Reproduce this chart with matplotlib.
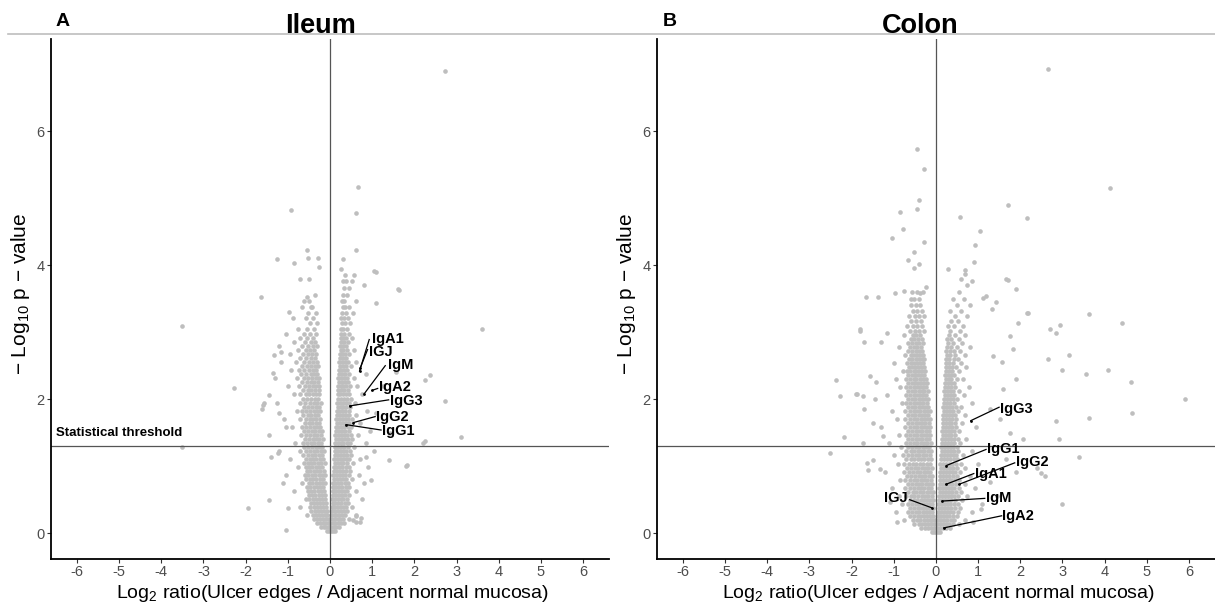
import matplotlib
matplotlib.use('Agg')
import matplotlib.pyplot as plt
import numpy as np

plt.rcParams['font.family'] = ['Liberation Sans', 'DejaVu Sans']
plt.rcParams['mathtext.fontset'] = 'custom'
plt.rcParams['mathtext.rm'] = 'Liberation Sans'
plt.rcParams['mathtext.default'] = 'regular'

# ---- data (log2 ratio, -log10 p) ----
# dense cloud, one row per -log10 p level: (y, [x, x, ...])
ileum_rows = [
    (0.03, [-0.08, -0.03, 0.02, 0.07, 0.12]),
    (0.09, [-0.22, -0.15, -0.09, -0.03, 0.03, 0.09, 0.15, 0.21]),
    (0.15, [-0.31, -0.24, -0.17, -0.11, -0.05, 0.01, 0.07, 0.13, 0.19, 0.25, 0.33]),
    (0.21, [-0.38, -0.30, -0.23, -0.16, -0.09, -0.02, 0.05, 0.11, 0.18, 0.24, 0.31, 0.45]),
    (0.27, [-0.55, -0.41, -0.34, -0.27, -0.20, -0.13, -0.06, 0.03, 0.09, 0.15, 0.22, 0.29, 0.36, 0.62]),
    (0.33, [-0.44, -0.36, -0.29, -0.22, -0.15, -0.08, 0.05, 0.12, 0.19, 0.26, 0.33, 0.41]),
    (0.39, [-0.70, -0.47, -0.39, -0.31, -0.24, -0.17, -0.10, 0.04, 0.10, 0.17, 0.24, 0.31, 0.38, 0.53]),
    (0.45, [-0.46, -0.38, -0.30, -0.23, -0.16, -0.09, 0.06, 0.13, 0.20, 0.27, 0.35, 0.42]),
    (0.51, [-0.58, -0.49, -0.41, -0.33, -0.26, -0.19, -0.12, 0.05, 0.11, 0.18, 0.25, 0.32, 0.40, 0.75]),
    (0.57, [-0.50, -0.42, -0.35, -0.27, -0.20, -0.13, 0.07, 0.14, 0.21, 0.28, 0.36, 0.46]),
    (0.63, [-0.85, -0.52, -0.44, -0.37, -0.29, -0.22, -0.14, 0.06, 0.12, 0.19, 0.26, 0.33, 0.41, 0.62]),
    (0.69, [-0.55, -0.47, -0.39, -0.31, -0.24, -0.16, 0.08, 0.15, 0.22, 0.29, 0.37, 0.44]),
    (0.75, [-0.66, -0.50, -0.42, -0.34, -0.26, -0.18, -0.11, 0.07, 0.13, 0.20, 0.27, 0.35, 0.43, 0.80]),
    (0.81, [-0.56, -0.48, -0.40, -0.32, -0.24, -0.16, 0.09, 0.16, 0.23, 0.30, 0.38, 0.52]),
    (0.87, [-1.05, -0.60, -0.51, -0.43, -0.35, -0.27, -0.19, -0.12, 0.08, 0.14, 0.21, 0.28, 0.36, 0.44, 0.68]),
    (0.93, [-0.55, -0.47, -0.39, -0.31, -0.23, -0.15, 0.10, 0.17, 0.24, 0.31, 0.39, 0.47]),
    (0.99, [-0.75, -0.58, -0.50, -0.42, -0.34, -0.26, -0.18, 0.09, 0.15, 0.22, 0.29, 0.37, 0.45, 0.90]),
    (1.05, [-0.62, -0.53, -0.45, -0.37, -0.29, -0.21, -0.13, 0.11, 0.18, 0.25, 0.32, 0.40, 0.55]),
    (1.11, [-0.95, -0.57, -0.48, -0.40, -0.32, -0.24, -0.16, 0.10, 0.16, 0.23, 0.30, 0.38, 0.46, 0.72]),
    (1.17, [-0.63, -0.52, -0.43, -0.35, -0.27, -0.19, 0.12, 0.19, 0.26, 0.33, 0.41, 0.49]),
    (1.23, [-1.20, -0.70, -0.58, -0.47, -0.38, -0.30, -0.22, -0.14, 0.11, 0.17, 0.24, 0.31, 0.39, 0.47, 1.05]),
    (1.29, [-0.61, -0.51, -0.42, -0.34, -0.26, -0.18, 0.13, 0.20, 0.27, 0.34, 0.42, 0.58]),
    (1.35, [-0.82, -0.64, -0.55, -0.46, -0.37, -0.29, -0.21, 0.12, 0.18, 0.25, 0.32, 0.40, 0.48, 0.85]),
    (1.41, [-0.59, -0.50, -0.41, -0.33, -0.25, -0.17, 0.14, 0.21, 0.28, 0.35, 0.43, 0.52]),
    (1.47, [-1.45, -0.68, -0.57, -0.47, -0.38, -0.30, -0.22, 0.13, 0.19, 0.26, 0.33, 0.41, 0.49, 0.66]),
    (1.53, [-0.62, -0.52, -0.43, -0.35, -0.27, -0.19, 0.15, 0.22, 0.29, 0.36, 0.44, 0.95]),
    (1.59, [-0.90, -0.66, -0.56, -0.47, -0.39, -0.31, -0.23, 0.14, 0.20, 0.27, 0.34, 0.42, 0.50]),
    (1.65, [-0.60, -0.50, -0.42, -0.34, -0.26, 0.16, 0.23, 0.30, 0.37, 0.45, 0.70]),
    (1.71, [-1.10, -0.70, -0.58, -0.48, -0.40, -0.32, -0.24, 0.15, 0.21, 0.28, 0.35, 0.43, 0.51]),
    (1.77, [-0.63, -0.53, -0.44, -0.36, -0.28, 0.17, 0.24, 0.31, 0.38, 0.46, 0.62]),
    (1.83, [-0.78, -0.67, -0.57, -0.48, -0.39, -0.31, -0.23, 0.16, 0.22, 0.29, 0.36, 0.44, 0.88]),
    (1.89, [-0.61, -0.51, -0.42, -0.34, -0.26, 0.18, 0.25, 0.32, 0.39, 0.47]),
    (1.95, [-1.25, -0.72, -0.59, -0.47, -0.38, -0.30, -0.22, 0.17, 0.23, 0.30, 0.37, 0.45, 0.60]),
    (2.01, [-0.64, -0.54, -0.45, -0.36, -0.28, 0.19, 0.26, 0.33, 0.40, 0.50]),
    (2.07, [-0.85, -0.70, -0.58, -0.49, -0.40, -0.32, -0.25, 0.18, 0.24, 0.31, 0.38, 0.46, 0.75]),
    (2.13, [-0.63, -0.53, -0.44, -0.35, -0.27, 0.20, 0.27, 0.34, 0.42]),
    (2.19, [-1.00, -0.74, -0.60, -0.50, -0.41, -0.33, -0.25, 0.19, 0.25, 0.32, 0.39, 0.48, 0.65]),
    (2.25, [-0.66, -0.55, -0.45, -0.37, -0.29, 0.21, 0.28, 0.35, 0.43]),
    (2.31, [-1.30, -0.78, -0.62, -0.52, -0.42, -0.34, -0.26, 0.20, 0.26, 0.33, 0.40, 0.56]),
    (2.37, [-0.68, -0.56, -0.46, -0.38, -0.30, 0.22, 0.29, 0.36, 0.45, 0.85]),
    (2.43, [-0.92, -0.74, -0.61, -0.50, -0.41, -0.33, 0.21, 0.27, 0.34, 0.41]),
    (2.49, [-0.66, -0.55, -0.45, -0.36, -0.28, 0.23, 0.30, 0.37, 0.50]),
    (2.55, [-1.15, -0.80, -0.62, -0.49, -0.40, -0.31, 0.22, 0.28, 0.35, 0.43, 0.62]),
    (2.61, [-0.70, -0.57, -0.46, -0.36, 0.24, 0.31, 0.39]),
    (2.67, [-0.95, -0.64, -0.52, -0.42, -0.32, 0.23, 0.29, 0.36, 0.46]),
    (2.73, [-0.76, -0.58, -0.47, -0.37, 0.25, 0.32, 0.40, 0.58]),
    (2.79, [-1.20, -0.66, -0.52, -0.40, -0.30, 0.24, 0.30, 0.37]),
    (2.85, [-0.85, -0.60, -0.46, -0.35, 0.26, 0.33, 0.42]),
    (2.91, [-0.70, -0.54, -0.41, 0.25, 0.31, 0.38, 0.52]),
    (2.97, [-1.05, -0.62, -0.47, -0.33, 0.27, 0.34, 0.44]),
    (3.05, [-0.75, -0.55, -0.38, 0.26, 0.32, 0.40]),
    (3.13, [-0.48, -0.30, 0.28, 0.35, 0.48]),
    (3.21, [-0.88, -0.58, -0.40, 0.27, 0.33, 0.42]),
    (3.29, [-0.52, -0.32, 0.29, 0.37, 0.55]),
    (3.38, [-0.66, -0.44, 0.30, 0.36, 0.45]),
    (3.47, [-0.50, 0.28, 0.34, 0.62]),
    (3.56, [-0.35, 0.31, 0.40]),
    (3.66, [0.33, 0.45]),
    (3.76, [0.30, 0.38, 0.52]),
    (3.86, [0.35, 0.58]),
]
ileum_sparse_x = [2.72, -0.92, 0.67, 0.61, 0.61, -0.55, -1.26, -0.85, -0.52, -0.29, -0.27, 0.32, 0.26,
                  1.05, 1.62, -0.71, -0.50, -1.63, -0.54, -0.42, 0.80, -3.51, 3.60, -2.28, -1.94, -3.50,
                  2.38, 2.72, 3.10, 2.21, 1.82, -1.04, -1.59, -1.60, -0.98, -0.61, -1.32, -1.16, 1.08,
                  1.57, 2.24, -1.34, -1.44, -1.56, -1.20, -1.04, 1.25, 1.09, 1.42, 2.24, -1.40, -1.24,
                  0.85, 1.41, 1.80, 0.97, -1.12, -1.00, -1.44, 0.62, 0.70, 0.55, 0.62, 0.74, 1.64, 1.09]
ileum_sparse_y = [6.90, 4.82, 5.17, 4.78, 4.22, 4.22, 4.09, 4.03, 4.10, 4.10, 3.97, 4.09, 3.94,
                  3.91, 3.64, 3.79, 3.79, 3.52, 3.53, 3.38, 3.70, 3.09, 3.04, 2.16, 0.37, 1.29,
                  2.36, 1.98, 1.44, 1.35, 1.02, 0.05, 1.92, 1.85, 3.30, 3.46, 2.66, 2.71, 3.90,
                  2.41, 2.29, 2.39, 2.06, 1.94, 1.79, 1.59, 2.19, 1.79, 1.49, 1.37, 1.14, 1.19,
                  1.14, 1.09, 1.00, 0.80, 0.75, 0.37, 0.50, 0.25, 0.17, 0.20, 0.16, 0.22, 3.63, 3.43]

colon_rows = [
    (0.02, [-0.10, -0.05, 0.00, 0.05, 0.10]),
    (0.08, [-0.35, -0.25, -0.18, -0.11, -0.04, 0.03, 0.10, 0.17, 0.24, 0.33]),
    (0.14, [-0.52, -0.40, -0.32, -0.25, -0.18, -0.11, -0.04, 0.03, 0.10, 0.17, 0.24, 0.31, 0.40, 0.55]),
    (0.20, [-0.75, -0.55, -0.45, -0.37, -0.29, -0.22, -0.15, -0.08, -0.01, 0.06, 0.13, 0.20, 0.27, 0.35, 0.44, 0.70]),
    (0.26, [-0.62, -0.52, -0.43, -0.35, -0.28, -0.21, -0.14, -0.07, 0.04, 0.11, 0.18, 0.25, 0.32, 0.40, 0.50]),
    (0.32, [-0.95, -0.66, -0.56, -0.47, -0.39, -0.31, -0.24, -0.17, -0.10, 0.05, 0.12, 0.19, 0.26, 0.33, 0.41, 0.52, 0.85]),
    (0.38, [-0.62, -0.52, -0.43, -0.35, -0.27, -0.20, -0.13, -0.06, 0.07, 0.14, 0.21, 0.28, 0.36, 0.45, 0.58]),
    (0.44, [-0.80, -0.67, -0.56, -0.47, -0.39, -0.31, -0.23, -0.16, -0.09, 0.06, 0.13, 0.20, 0.27, 0.34, 0.42, 0.52, 1.10]),
    (0.50, [-0.62, -0.53, -0.44, -0.36, -0.28, -0.20, -0.13, -0.06, 0.08, 0.15, 0.22, 0.29, 0.37, 0.46, 0.62]),
    (0.56, [-0.88, -0.70, -0.60, -0.51, -0.42, -0.34, -0.26, -0.18, -0.10, 0.07, 0.14, 0.21, 0.28, 0.35, 0.43, 0.53, 0.75]),
    (0.62, [-0.65, -0.55, -0.46, -0.38, -0.30, -0.22, -0.14, -0.07, 0.09, 0.16, 0.23, 0.30, 0.38, 0.47, 0.60]),
    (0.68, [-1.05, -0.72, -0.61, -0.52, -0.43, -0.35, -0.27, -0.19, -0.11, 0.08, 0.15, 0.22, 0.29, 0.36, 0.44, 0.55, 0.92]),
    (0.74, [-0.67, -0.57, -0.48, -0.40, -0.32, -0.24, -0.16, -0.08, 0.10, 0.17, 0.24, 0.31, 0.39, 0.48, 0.68]),
    (0.80, [-0.85, -0.73, -0.62, -0.53, -0.44, -0.36, -0.28, -0.20, -0.12, 0.09, 0.16, 0.23, 0.30, 0.37, 0.45, 0.56]),
    (0.86, [-0.68, -0.58, -0.49, -0.41, -0.33, -0.25, -0.17, -0.09, 0.11, 0.18, 0.25, 0.32, 0.40, 0.49, 0.80]),
    (0.92, [-1.20, -0.75, -0.63, -0.54, -0.45, -0.37, -0.29, -0.21, -0.13, 0.10, 0.17, 0.24, 0.31, 0.38, 0.46, 0.58]),
    (0.98, [-0.69, -0.59, -0.50, -0.42, -0.34, -0.26, -0.18, -0.10, 0.12, 0.19, 0.26, 0.33, 0.41, 0.50, 0.70]),
    (1.04, [-0.90, -0.76, -0.64, -0.55, -0.46, -0.38, -0.30, -0.22, -0.14, 0.11, 0.18, 0.25, 0.32, 0.39, 0.47, 0.60, 1.00]),
    (1.10, [-0.70, -0.60, -0.51, -0.43, -0.35, -0.27, -0.19, -0.11, 0.13, 0.20, 0.27, 0.34, 0.42, 0.51]),
    (1.16, [-1.00, -0.77, -0.65, -0.56, -0.47, -0.39, -0.31, -0.23, -0.15, 0.12, 0.19, 0.26, 0.33, 0.40, 0.48, 0.64]),
    (1.22, [-0.70, -0.60, -0.51, -0.43, -0.35, -0.27, -0.19, -0.12, 0.14, 0.21, 0.28, 0.35, 0.43, 0.53, 0.85]),
    (1.28, [-0.82, -0.66, -0.56, -0.47, -0.39, -0.31, -0.23, -0.16, 0.13, 0.20, 0.27, 0.34, 0.41, 0.49]),
    (1.34, [-1.10, -0.71, -0.61, -0.52, -0.44, -0.36, -0.28, -0.20, -0.12, 0.15, 0.22, 0.29, 0.36, 0.44, 0.58]),
    (1.40, [-0.66, -0.56, -0.48, -0.40, -0.32, -0.24, -0.16, 0.14, 0.21, 0.28, 0.35, 0.42, 0.52, 0.72]),
    (1.46, [-0.88, -0.71, -0.61, -0.52, -0.44, -0.36, -0.28, -0.20, -0.13, 0.16, 0.23, 0.30, 0.37, 0.45]),
    (1.52, [-0.66, -0.56, -0.48, -0.40, -0.32, -0.24, -0.17, 0.15, 0.22, 0.29, 0.36, 0.44, 0.56]),
    (1.58, [-1.30, -0.72, -0.61, -0.52, -0.44, -0.36, -0.28, -0.21, -0.14, 0.17, 0.24, 0.31, 0.38, 0.47, 0.95]),
    (1.64, [-0.67, -0.57, -0.48, -0.40, -0.32, -0.25, -0.17, 0.16, 0.23, 0.30, 0.37, 0.45, 0.62]),
    (1.70, [-0.92, -0.72, -0.62, -0.53, -0.44, -0.36, -0.29, -0.21, -0.14, 0.18, 0.25, 0.32, 0.39, 0.48]),
    (1.76, [-0.67, -0.57, -0.49, -0.41, -0.33, -0.25, -0.18, 0.17, 0.24, 0.31, 0.38, 0.46, 0.70]),
    (1.82, [-1.05, -0.72, -0.62, -0.53, -0.45, -0.37, -0.29, -0.22, -0.15, 0.19, 0.26, 0.33, 0.40, 0.52]),
    (1.88, [-0.67, -0.57, -0.49, -0.41, -0.33, -0.26, -0.18, 0.18, 0.25, 0.32, 0.39, 0.47, 0.60]),
    (1.94, [-0.80, -0.71, -0.62, -0.53, -0.45, -0.37, -0.30, -0.22, 0.20, 0.27, 0.34, 0.42, 0.85]),
    (2.00, [-0.66, -0.57, -0.49, -0.41, -0.34, -0.26, -0.19, 0.19, 0.26, 0.33, 0.40, 0.50]),
    (2.06, [-1.15, -0.71, -0.61, -0.53, -0.45, -0.38, -0.30, -0.23, 0.21, 0.28, 0.35, 0.43, 0.66]),
    (2.12, [-0.66, -0.57, -0.49, -0.41, -0.34, -0.27, -0.19, 0.20, 0.27, 0.34, 0.41, 0.55]),
    (2.18, [-0.86, -0.70, -0.61, -0.53, -0.45, -0.38, -0.31, -0.24, 0.22, 0.29, 0.36, 0.45, 0.78]),
    (2.24, [-0.65, -0.57, -0.49, -0.42, -0.35, -0.27, -0.20, 0.21, 0.28, 0.35, 0.43]),
    (2.30, [-0.95, -0.70, -0.61, -0.53, -0.46, -0.38, -0.31, -0.24, 0.23, 0.30, 0.37, 0.50, 0.64]),
    (2.36, [-0.65, -0.57, -0.49, -0.42, -0.35, -0.28, 0.22, 0.29, 0.36, 0.44]),
    (2.42, [-0.78, -0.69, -0.61, -0.53, -0.46, -0.39, -0.32, -0.25, 0.24, 0.31, 0.39, 0.56]),
    (2.48, [-0.64, -0.56, -0.49, -0.42, -0.35, -0.28, 0.23, 0.30, 0.38, 0.47, 0.72]),
    (2.54, [-1.00, -0.69, -0.60, -0.52, -0.45, -0.38, -0.31, 0.25, 0.32, 0.40, 0.60]),
    (2.60, [-0.64, -0.56, -0.48, -0.41, -0.34, -0.27, 0.24, 0.31, 0.42, 0.52]),
    (2.66, [-0.72, -0.60, -0.52, -0.45, -0.38, -0.30, 0.26, 0.34, 0.46, 0.68]),
    (2.72, [-0.66, -0.56, -0.48, -0.41, -0.33, 0.25, 0.33, 0.44, 0.58]),
    (2.78, [-0.88, -0.61, -0.52, -0.44, -0.36, 0.27, 0.36, 0.50, 0.80]),
    (2.84, [-0.66, -0.56, -0.47, -0.39, -0.30, 0.28, 0.41, 0.62]),
    (2.90, [-0.60, -0.51, -0.42, -0.34, 0.26, 0.35, 0.55]),
    (2.96, [-0.75, -0.55, -0.46, -0.37, 0.30, 0.46, 0.70]),
    (3.02, [-0.62, -0.50, -0.40, -0.28, 0.33, 0.58]),
    (3.09, [-0.68, -0.55, -0.44, -0.33, 0.28, 0.42, 0.65]),
    (3.16, [-0.58, -0.47, -0.36, 0.37, 0.52]),
    (3.24, [-0.64, -0.50, -0.40, -0.29, 0.45, 0.75]),
    (3.32, [-0.55, -0.44, -0.34, 0.33, 0.60]),
    (3.40, [-0.60, -0.47, -0.37, 0.50, 0.82]),
    (3.50, [-0.52, -0.41, 0.40, 0.66]),
    (3.60, [-0.56, -0.44, -0.30, 0.55]),
]
colon_sparse_x = [-0.44, -0.28, -0.39, -0.44, -0.84, -0.79, -1.04, -0.27, 2.65, 4.12, 1.70, 2.17, 0.58,
                  1.05, 0.94, 0.91, 0.29, 0.69, 0.69, 1.70, -0.51, -0.65, -0.39, -0.51, 0.60, 0.85,
                  0.75, 1.11, 1.42, -1.65, -1.37, -0.97, -0.75, -0.37, -0.24, -0.60, 3.64, 4.42, 2.18,
                  2.70, 2.95, 2.85, 3.16, 2.65, 2.99, 3.55, 4.08, 4.62, 5.90, 4.65, 3.64, 2.85, 2.93,
                  3.39, 2.40, 2.50, 2.60, 2.99, -2.36, -2.27, -1.80, -1.71, -1.90, -1.44, -2.17, -2.50,
                  -1.50, -1.62, -1.70, -1.30, -1.15, 1.67, 1.91, 1.20, 1.32, 2.15, -1.80, 1.95, 1.75,
                  -1.72, -1.88, -1.56, -1.41, 1.36, 1.56, 1.83, 1.91, 1.60, 1.28, 1.52, 1.75, 2.07,
                  -1.33, -1.64, -1.48, -1.25, -1.72, 1.67, 1.91, 1.28, 1.44, 1.08, -1.09, -0.93, 0.88]
colon_sparse_y = [5.74, 5.43, 4.97, 4.84, 4.79, 4.54, 4.41, 4.35, 6.92, 5.15, 4.90, 4.70, 4.72,
                  4.51, 4.30, 4.04, 3.94, 3.92, 3.87, 3.78, 4.20, 4.08, 4.02, 3.95, 3.80, 3.76,
                  3.70, 3.51, 3.45, 3.52, 3.52, 3.58, 3.62, 3.58, 3.67, 3.50, 3.27, 3.14, 3.28,
                  3.05, 3.10, 2.98, 2.66, 2.60, 2.44, 2.37, 2.43, 2.26, 2.01, 1.80, 1.72, 1.68, 1.40,
                  1.14, 0.98, 0.90, 0.85, 0.43, 2.29, 2.04, 3.05, 2.86, 2.08, 2.00, 1.44, 1.20,
                  1.09, 0.94, 1.85, 2.85, 2.98, 3.79, 3.64, 3.54, 3.34, 3.29, 3.02, 3.14, 2.95,
                  2.05, 2.07, 2.35, 2.25, 2.65, 2.55, 2.75, 2.30, 2.15, 1.85, 1.70, 1.50, 1.40,
                  0.96, 1.05, 1.65, 1.45, 1.35, 1.10, 0.91, 0.76, 0.56, 0.36, 0.46, 0.16, 0.16]

# immunoglobulin genes marked on each panel
ileum_genes = ['IgA1', 'IGJ', 'IgM', 'IgA2', 'IgG3', 'IgG2', 'IgG1']
ileum_gene_x = [0.70, 0.72, 0.81, 0.99, 0.47, 0.55, 0.38]
ileum_gene_y = [2.42, 2.47, 2.08, 2.13, 1.90, 1.65, 1.62]
colon_genes = ['IgG3', 'IgG1', 'IgG2', 'IgA1', 'IgM', 'IGJ', 'IgA2']
colon_gene_x = [0.83, 0.25, 0.55, 0.24, 0.15, -0.10, 0.19]
colon_gene_y = [1.68, 1.01, 0.73, 0.73, 0.48, 0.38, 0.08]

p_threshold = 0.05
x_ticks = list(range(-6, 7))
y_ticks = [0, 2, 4, 6]

# label placement (data coords): text anchor, segment start, alignment
ileum_lab_pos = [(0.99, 2.90), (0.92, 2.71), (1.37, 2.51), (1.17, 2.18), (1.42, 1.97), (1.09, 1.74), (1.23, 1.53)]
ileum_seg_start = [(0.93, 2.89), (0.89, 2.74), (1.31, 2.50), (1.13, 2.16), (1.39, 1.99), (1.07, 1.74), (1.21, 1.54)]
ileum_ha = ['left'] * 7
colon_lab_pos = [(1.52, 1.86), (1.22, 1.25), (1.90, 1.06), (0.92, 0.88), (1.20, 0.53), (-0.66, 0.53), (1.58, 0.26)]
colon_seg_start = [(1.50, 1.88), (1.19, 1.25), (1.87, 1.05), (0.90, 0.89), (1.16, 0.52), (-0.62, 0.50), (1.56, 0.26)]
colon_ha = ['left', 'left', 'left', 'left', 'left', 'right', 'left']


def flatten(rows, sx, sy):
    xs = [x for y, row in rows for x in row] + list(sx)
    ys = [y for y, row in rows for x in row] + list(sy)
    return np.array(xs), np.array(ys)


fig = plt.figure(figsize=(12.15, 6.08), dpi=100)
ax_a = fig.add_axes([0.0417, 0.0811, 0.4598, 0.8543])
ax_b = fig.add_axes([0.5405, 0.0811, 0.4595, 0.8543])

panels = [
    (ax_a, flatten(ileum_rows, ileum_sparse_x, ileum_sparse_y), ileum_genes, ileum_gene_x, ileum_gene_y,
     ileum_lab_pos, ileum_seg_start, ileum_ha),
    (ax_b, flatten(colon_rows, colon_sparse_x, colon_sparse_y), colon_genes, colon_gene_x, colon_gene_y,
     colon_lab_pos, colon_seg_start, colon_ha),
]

for ax, (px, py), genes, gx, gy, lab_pos, seg_start, has in panels:
    ax.scatter(px, py, s=11, color='#BEBEBE', linewidths=0, zorder=1)
    ax.axhline(-np.log10(p_threshold), color='#555555', lw=0.9, zorder=2)
    ax.axvline(0, color='#555555', lw=0.9, zorder=2)
    for g, x, y, (tx, ty), (sx0, sy0), ha in zip(genes, gx, gy, lab_pos, seg_start, has):
        ax.plot([sx0, x], [sy0, y], color='black', lw=0.9, zorder=3)
        ax.scatter([x], [y], s=4, color='black', linewidths=0, zorder=4)
        ax.text(tx, ty, g, ha=ha, va='center', fontsize=10.5, fontweight='bold', zorder=5)

    ax.set_xlim(-6.62, 6.62)
    ax.set_ylim(-0.38, 7.37)
    ax.set_xticks(x_ticks)
    ax.set_xticklabels([str(t) for t in x_ticks])
    ax.set_yticks(y_ticks)
    ax.tick_params(labelsize=10.5, labelcolor='#4D4D4D', color='#333333', length=3, width=0.8, pad=1.5)
    for s in ['top', 'right']:
        ax.spines[s].set_visible(False)
    for s in ['left', 'bottom']:
        ax.spines[s].set_linewidth(1.3)
        ax.spines[s].set_color('black')

ax_a.text(-6.49, 1.50, 'Statistical threshold', ha='left', va='center', fontsize=9.5, fontweight='bold')

# panel titles, letters and axis titles
fig.add_artist(plt.Line2D([0.0064, 1.0], [0.9436, 0.9436], transform=fig.transFigure, color='#BDBDBD', lw=1.2))
fig.text(0.2634, 0.9457, 'Ileum', ha='center', va='baseline', fontsize=19.5, fontweight='bold')
fig.text(0.7572, 0.9457, 'Colon', ha='center', va='baseline', fontsize=19.5, fontweight='bold')
fig.text(0.0461, 0.957, 'A', ha='left', va='baseline', fontsize=14, fontweight='bold')
fig.text(0.5457, 0.957, 'B', ha='left', va='baseline', fontsize=14, fontweight='bold')

ylab = '\u2212 Log$_{10}$ p \u2212 value'
xlab = 'Log$_2$ ratio(Ulcer edges / Adjacent normal mucosa)'
for xc, yc in [(0.0165, 0.516), (0.516, 0.516)]:
    fig.text(xc, yc, ylab, rotation=90, ha='center', va='center', fontsize=15)
for xc in [0.274, 0.772]:
    fig.text(xc, 0.017, xlab, ha='center', va='baseline', fontsize=14)

fig.savefig('out.png', dpi=100)
